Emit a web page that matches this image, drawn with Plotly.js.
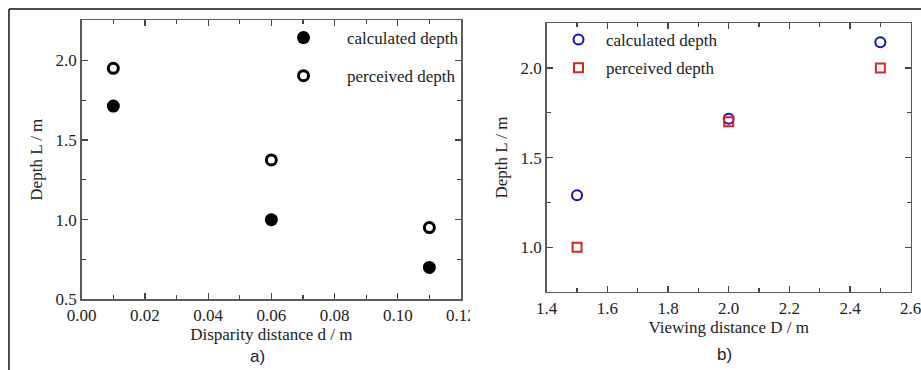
<!DOCTYPE html>
<html>
<head>
<meta charset="utf-8">
<script src="https://cdn.plot.ly/plotly-3.0.1.min.js"></script>
<style>html,body{margin:0;padding:0;background:#fff;}#chart{width:921px;height:370px;}</style>
</head>
<body>
<div id="chart"></div>
<script>
// Panel a)
var disparityD = [0.01, 0.06, 0.11];
var calcDepthA = [1.713, 1.0, 0.70];
var percDepthA = [1.95, 1.375, 0.95];
// Panel b)
var viewingD = [1.5, 2.0, 2.5];
var calcDepthB = [1.29, 1.717, 2.143];
var percDepthB = [1.0, 1.70, 2.0];

var seriesNames = ['calculated depth', 'perceived depth'];
var xTitles = ['Disparity distance d / m', 'Viewing distance D / m'];
var yTitle = 'Depth L / m';
var panelLabels = ['a)', 'b)'];

var W = 921, H = 370;
function px(x){return x / W;}
function py(y){return 1 - y / H;}

function tf(){ return {family: 'Liberation Serif', size: 17, color: '#222'}; }

var traces = [
  {x: disparityD, y: calcDepthA, name: seriesNames[0], type: 'scatter', mode: 'markers',
   xaxis: 'x', yaxis: 'y', legend: 'legend', legendgroup: 'a1',
   marker: {symbol: 'circle', size: 13, color: '#000', line: {width: 0}}},
  {x: disparityD, y: percDepthA, name: seriesNames[1], type: 'scatter', mode: 'markers',
   xaxis: 'x', yaxis: 'y', legend: 'legend', legendgroup: 'a2',
   marker: {symbol: 'circle-open', size: 10, color: '#000', line: {width: 3, color: '#000'}}},
  {x: viewingD, y: calcDepthB, name: seriesNames[0], type: 'scatter', mode: 'markers',
   xaxis: 'x2', yaxis: 'y2', legend: 'legend2', legendgroup: 'b1',
   marker: {symbol: 'circle-open', size: 10, color: '#1414a8', line: {width: 2, color: '#1414a8'}}},
  {x: viewingD, y: percDepthB, name: seriesNames[1], type: 'scatter', mode: 'markers',
   xaxis: 'x2', yaxis: 'y2', legend: 'legend2', legendgroup: 'b2',
   marker: {symbol: 'square-open', size: 9, color: '#d42626', line: {width: 2, color: '#d42626'}}}
];

function axisBase(){
  return {
    showline: true, linecolor: '#5a5a5a', linewidth: 1.5, mirror: 'allticks',
    ticks: 'inside', ticklen: 6, tickwidth: 1.2, tickcolor: '#444',
    showgrid: false, zeroline: false, tickfont: tf(), fixedrange: true,
    ticklabeloverflow: 'allow'
  };
}
function minorTicks(d){
  return {dtick: d, ticks: 'inside', ticklen: 4, tickcolor: '#444', tickwidth: 1.2, showgrid: false};
}

var xa = Object.assign(axisBase(), {
  domain: [px(81.7), px(461)], anchor: 'y', range: [0, 0.12001],
  tick0: 0, dtick: 0.02, tickformat: '.2f', minor: minorTicks(0.01),
  title: {text: xTitles[0], font: tf(), standoff: 4}
});
var ya = Object.assign(axisBase(), {
  domain: [py(299.3), py(20)], anchor: 'x', range: [0.5, 2.253],
  tick0: 0.5, dtick: 0.5, tickformat: '.1f', minor: minorTicks(0.25),
  title: {text: yTitle, font: tf(), standoff: 8}
});
var xb = Object.assign(axisBase(), {
  domain: [px(546.7), px(910.7)], anchor: 'y2', range: [1.4, 2.6001],
  tick0: 1.4, dtick: 0.2, tickformat: '.1f', minor: minorTicks(0.1),
  title: {text: xTitles[1], font: tf(), standoff: 0}
});
var yb = Object.assign(axisBase(), {
  domain: [py(291.7), py(23.3)], anchor: 'x2', range: [0.752, 2.249],
  tick0: 0.5, dtick: 0.5, tickformat: '.1f', minor: minorTicks(0.25),
  title: {text: yTitle, font: tf(), standoff: 8}
});

var layout = {
  width: W, height: H,
  margin: {l: 0, r: 0, t: 0, b: 0},
  paper_bgcolor: '#fff', plot_bgcolor: '#fff',
  font: tf(),
  showlegend: true,
  xaxis: xa, yaxis: ya, xaxis2: xb, yaxis2: yb,
  legend: {x: px(260), y: py(20), xanchor: 'left', yanchor: 'top',
    bgcolor: 'rgba(0,0,0,0)', borderwidth: 0, font: tf(),
    itemwidth: 77, tracegroupgap: 13, traceorder: 'grouped'},
  legend2: {x: px(551), y: py(22), xanchor: 'left', yanchor: 'top',
    bgcolor: 'rgba(0,0,0,0)', borderwidth: 0, font: tf(),
    itemwidth: 45, tracegroupgap: 3, traceorder: 'grouped'},
  annotations: [
    {text: panelLabels[0], xref: 'paper', yref: 'paper', x: px(257), y: py(356),
     xanchor: 'center', yanchor: 'middle', showarrow: false,
     font: {family: 'Liberation Sans', size: 17, color: '#222'}},
    {text: panelLabels[1], xref: 'paper', yref: 'paper', x: px(724), y: py(354),
     xanchor: 'center', yanchor: 'middle', showarrow: false,
     font: {family: 'Liberation Sans', size: 17, color: '#222'}}
  ],
  shapes: [
    {type: 'line', xref: 'paper', yref: 'paper', x0: px(9), x1: 1, y0: py(9), y1: py(9),
     line: {color: '#111', width: 1.5}},
    {type: 'line', xref: 'paper', yref: 'paper', x0: px(9), x1: px(9), y0: py(9), y1: 0,
     line: {color: '#111', width: 1.5}},
    {type: 'rect', xref: 'paper', yref: 'paper', x0: px(470), x1: px(490), y0: py(325), y1: py(300),
     fillcolor: '#fff', line: {width: 0}, layer: 'above'}
  ]
};

Plotly.newPlot('chart', traces, layout, {displayModeBar: false, staticPlot: true});
</script>
</body>
</html>
